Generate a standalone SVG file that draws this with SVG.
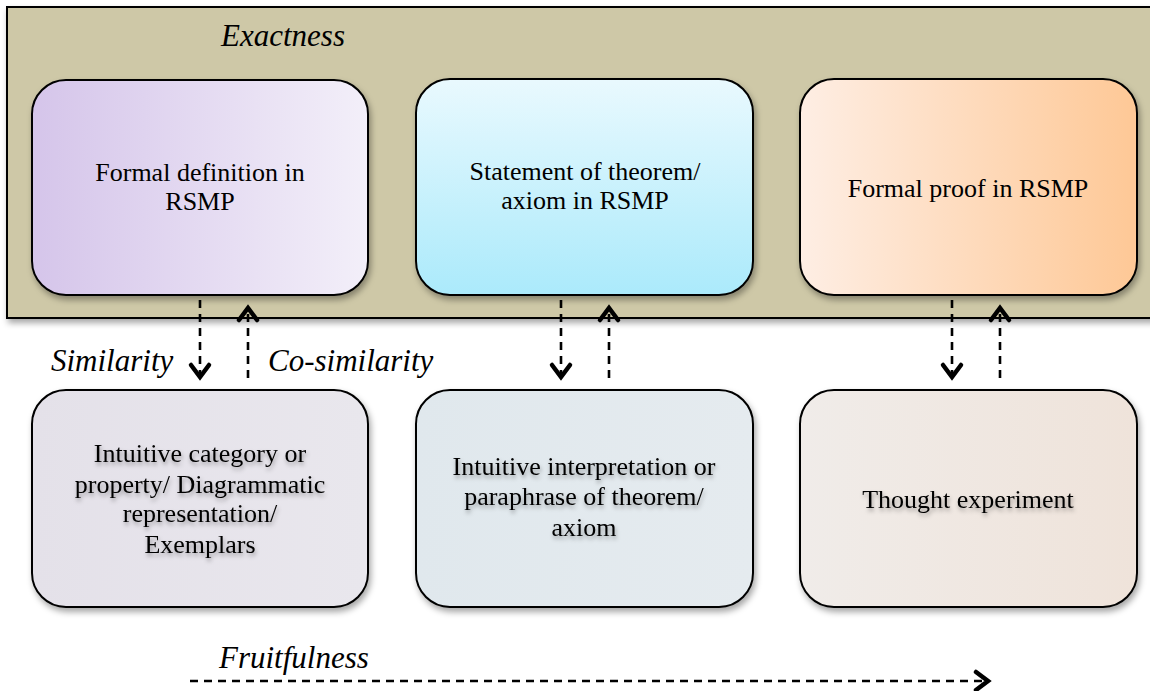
<svg xmlns="http://www.w3.org/2000/svg" width="1150" height="691" viewBox="0 0 1150 691">
<style>
.box{stroke:#000;stroke-width:2;filter:url(#sh)}
.t{font-family:"Liberation Serif","Times New Roman",serif;font-size:26px;fill:#000;text-anchor:middle}
.ts{filter:url(#tsh)}
.lab{font-family:"Liberation Serif","Times New Roman",serif;font-size:31px;font-style:italic;fill:#000}
.conn{fill:none;stroke:#000;stroke-width:2.6;stroke-dasharray:8 6}
</style>
<defs>
<filter id="sh" x="-10%" y="-10%" width="125%" height="130%"><feDropShadow dx="2" dy="4" stdDeviation="3" flood-color="#000" flood-opacity="0.35"/></filter>
<filter id="tsh" x="-10%" y="-30%" width="120%" height="170%"><feDropShadow dx="1" dy="3" stdDeviation="2" flood-color="#000" flood-opacity="0.35"/></filter>
<linearGradient id="g1" x1="0" y1="0" x2="1" y2="0"><stop offset="0" stop-color="#D5C5EA"/><stop offset="1" stop-color="#F3EFF9"/></linearGradient>
<linearGradient id="g2" x1="0" y1="0" x2="0" y2="1"><stop offset="0" stop-color="#E9F9FE"/><stop offset="1" stop-color="#ABEAFB"/></linearGradient>
<linearGradient id="g3" x1="0" y1="0" x2="1" y2="0"><stop offset="0" stop-color="#FEEEE4"/><stop offset="1" stop-color="#FEC896"/></linearGradient>
<linearGradient id="g4" x1="0" y1="0" x2="1" y2="0"><stop offset="0" stop-color="#E4E1E9"/><stop offset="1" stop-color="#E9E7ED"/></linearGradient>
<linearGradient id="g5" x1="0" y1="0" x2="1" y2="0"><stop offset="0" stop-color="#E0E8ED"/><stop offset="1" stop-color="#E5EBEF"/></linearGradient>
<linearGradient id="g6" x1="0" y1="0" x2="1" y2="0"><stop offset="0" stop-color="#F0ECE9"/><stop offset="1" stop-color="#EFE3DA"/></linearGradient>
<marker id="ah" markerUnits="userSpaceOnUse" viewBox="-18 -14 22 28" refX="0" refY="0" markerWidth="22" markerHeight="28" orient="auto">
<path d="M -13 -9 L -1 0 L -13 9" fill="none" stroke="#000" stroke-width="4.5" stroke-linecap="round" stroke-linejoin="miter"/>
</marker>
</defs>

<g id="exactness-panel">
<rect x="7" y="7" width="1160" height="311" fill="#CEC8A7" stroke="#000" stroke-width="2" filter="url(#sh)"/>
<text class="lab" x="221" y="46">Exactness</text>
</g>

<g id="formal-definition">
<rect class="box" x="32" y="80" width="336" height="215" rx="34" fill="url(#g1)"/>
<text class="t" x="200" y="181">Formal definition in</text>
<text class="t" x="200" y="210">RSMP</text>
</g>
<g id="statement-theorem">
<rect class="box" x="416" y="79" width="337" height="216" rx="34" fill="url(#g2)"/>
<text class="t" x="585" y="180">Statement of theorem/</text>
<text class="t" x="585" y="209">axiom in RSMP</text>
</g>
<g id="formal-proof">
<rect class="box" x="800" y="79" width="337" height="216" rx="34" fill="url(#g3)"/>
<text class="t" x="968" y="197">Formal proof in RSMP</text>
</g>

<g id="intuitive-category">
<rect class="box" x="32" y="390" width="336" height="217" rx="34" fill="url(#g4)"/>
<g class="ts">
<text class="t" x="200" y="462">Intuitive category or</text>
<text class="t" x="200" y="493">property/ Diagrammatic</text>
<text class="t" x="200" y="522">representation/</text>
<text class="t" x="200" y="553">Exemplars</text>
</g>
</g>
<g id="intuitive-interpretation">
<rect class="box" x="416" y="390" width="337" height="217" rx="34" fill="url(#g5)"/>
<g class="ts">
<text class="t" x="584" y="475">Intuitive interpretation or</text>
<text class="t" x="584" y="505">paraphrase of theorem/</text>
<text class="t" x="584" y="536">axiom</text>
</g>
</g>
<g id="thought-experiment">
<rect class="box" x="800" y="390" width="337" height="217" rx="34" fill="url(#g6)"/>
<g class="ts">
<text class="t" x="968" y="508">Thought experiment</text>
</g>
</g>

<g id="connectors">
<line class="conn" x1="200" y1="300" x2="200" y2="378" marker-end="url(#ah)"/>
<line class="conn" x1="248" y1="378" x2="248" y2="307" marker-end="url(#ah)"/>
<line class="conn" x1="561" y1="300" x2="561" y2="378" marker-end="url(#ah)"/>
<line class="conn" x1="609" y1="378" x2="609" y2="307" marker-end="url(#ah)"/>
<line class="conn" x1="952" y1="300" x2="952" y2="378" marker-end="url(#ah)"/>
<line class="conn" x1="1000" y1="378" x2="1000" y2="307" marker-end="url(#ah)"/>
<line class="conn" x1="190" y1="681" x2="989" y2="681" marker-end="url(#ah)"/>
</g>

<g id="labels">
<text class="lab" x="51" y="371">Similarity</text>
<text class="lab" x="268" y="371">Co-similarity</text>
<text class="lab" x="219" y="668">Fruitfulness</text>
</g>
</svg>
